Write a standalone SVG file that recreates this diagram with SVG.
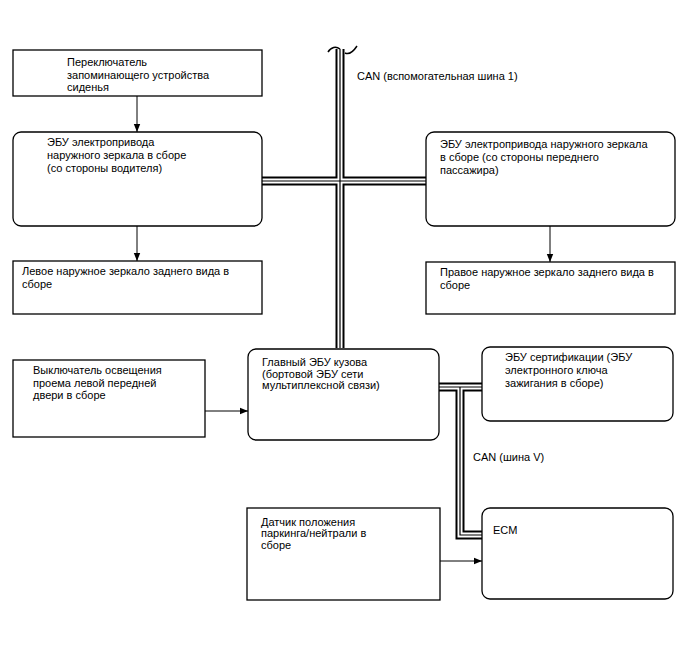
<svg xmlns="http://www.w3.org/2000/svg" width="688" height="658" viewBox="0 0 688 658">
<style>
.box{fill:#fff;stroke:#000;stroke-width:1.3}
.t{font-family:"Liberation Sans",Arial,sans-serif;font-size:11px;fill:#000}
.ln{stroke:#000;stroke-width:1;fill:none}
.busO{stroke:#000;stroke-width:9;fill:none}
.busW{stroke:#fff;stroke-width:5;fill:none}
.busI{stroke:#000;stroke-width:1.2;fill:none}
</style>
<defs>
<marker id="ah" markerWidth="8" markerHeight="8" refX="8" refY="4" orient="auto" markerUnits="userSpaceOnUse">
<path d="M0,0.8 L8,4 L0,7.2 Z" fill="#000"/>
</marker>
</defs>
<rect width="688" height="658" fill="#fff"/>
<g id="connectors">
<path class="busO" d="M340,49 V348 M262,181 H427"/>
<path class="busO" d="M439,387 H483 M460,387 V535 H483"/>
<path class="busW" d="M340,49 V348 M262,181 H427"/>
<path class="busW" d="M439,387 H483 M460,387 V535 H483"/>
<path class="busI" d="M340,49 V348 M262,181 H427"/>
<path class="busI" d="M439,387 H483 M460,387 V535 H483"/>
<path d="M328,52 C331,47 336,46 340,49 M345,53 C349,55 353,52 357,46" stroke="#000" stroke-width="1.5" fill="none"/>
<line class="ln" x1="137" y1="96" x2="137" y2="132" marker-end="url(#ah)"/>
<line class="ln" x1="137" y1="226" x2="137" y2="261" marker-end="url(#ah)"/>
<line class="ln" x1="550" y1="226" x2="550" y2="262" marker-end="url(#ah)"/>
<line class="ln" x1="205" y1="411" x2="248" y2="411" marker-end="url(#ah)"/>
<line class="ln" x1="440" y1="561" x2="482" y2="561" marker-end="url(#ah)"/>
<text class="t" x="357" y="80">CAN (вспомогательная шина 1)</text>
<text class="t" x="473" y="461">CAN (шина V)</text>
</g>
<g id="seat-switch">
<rect class="box" x="13" y="50" width="249" height="46"/>
<text class="t" x="67" y="66">Переключатель</text>
<text class="t" x="67" y="78.5">запоминающего устройства</text>
<text class="t" x="67" y="91">сиденья</text>
</g>
<g id="mirror-ecu-driver">
<rect class="box" x="13" y="132" width="249" height="94" rx="8"/>
<text class="t" x="47" y="146">ЭБУ электропривода</text>
<text class="t" x="47" y="159">наружного зеркала в сборе</text>
<text class="t" x="47" y="172">(со стороны водителя)</text>
</g>
<g id="left-mirror">
<rect class="box" x="13" y="261" width="249" height="53"/>
<text class="t" x="22" y="275">Левое наружное зеркало заднего вида в</text>
<text class="t" x="22" y="288">сборе</text>
</g>
<g id="mirror-ecu-passenger">
<rect class="box" x="426" y="132" width="249" height="94" rx="8"/>
<text class="t" x="440" y="148">ЭБУ электропривода наружного зеркала</text>
<text class="t" x="440" y="161">в сборе (со стороны переднего</text>
<text class="t" x="440" y="173.5">пассажира)</text>
</g>
<g id="right-mirror">
<rect class="box" x="426" y="262" width="249" height="52"/>
<text class="t" x="440" y="276">Правое наружное зеркало заднего вида в</text>
<text class="t" x="440" y="288.5">сборе</text>
</g>
<g id="door-switch">
<rect class="box" x="13" y="360" width="192" height="77"/>
<text class="t" x="33" y="374">Выключатель освещения</text>
<text class="t" x="33" y="386.5">проема левой передней</text>
<text class="t" x="33" y="399">двери в сборе</text>
</g>
<g id="main-body-ecu">
<rect class="box" x="248" y="349" width="191" height="91" rx="8"/>
<text class="t" x="262" y="366">Главный ЭБУ кузова</text>
<text class="t" x="262" y="377.5">(бортовой ЭБУ сети</text>
<text class="t" x="262" y="389">мультиплексной связи)</text>
</g>
<g id="certification-ecu">
<rect class="box" x="482" y="347" width="191" height="74" rx="8"/>
<text class="t" x="505" y="361">ЭБУ сертификации (ЭБУ</text>
<text class="t" x="505" y="374">электронного ключа</text>
<text class="t" x="505" y="387">зажигания в сборе)</text>
</g>
<g id="pn-sensor">
<rect class="box" x="247" y="508" width="193" height="92"/>
<text class="t" x="261" y="526">Датчик положения</text>
<text class="t" x="261" y="537">паркинга/нейтрали в</text>
<text class="t" x="261" y="549">сборе</text>
</g>
<g id="ecm">
<rect class="box" x="482" y="508" width="191" height="91" rx="8"/>
<text class="t" x="493" y="534">ECM</text>
</g>
</svg>
